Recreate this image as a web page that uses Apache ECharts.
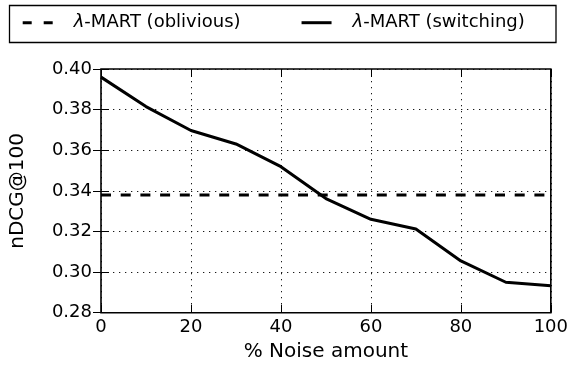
<!DOCTYPE html>
<html><head><meta charset="utf-8">
<script src="https://cdn.jsdelivr.net/npm/echarts@6/dist/echarts.min.js"></script>
<style>html,body{margin:0;padding:0;background:#fff}#c{width:571px;height:368px}</style>
</head><body><div id="c"></div>
<script>
const noise = [0, 10, 20, 30, 40, 50, 60, 70, 80, 90, 100];
const switching = [0.396, 0.3815, 0.3697, 0.3631, 0.3519, 0.3362, 0.326, 0.3212, 0.3055, 0.295, 0.2933];
const oblivious = [0.338, 0.338, 0.338, 0.338, 0.338, 0.338, 0.338, 0.338, 0.338, 0.338, 0.338];
const seriesNames = ['λ-MART (oblivious)', 'λ-MART (switching)'];
const xTicks = [0, 20, 40, 60, 80, 100];
const yTicks = [0.28, 0.30, 0.32, 0.34, 0.36, 0.38, 0.40];
const xTitle = '% Noise amount';
const yTitle = 'nDCG@100';

const font = 'DejaVu Sans';
const chart = echarts.init(document.getElementById('c'), null, {renderer: 'canvas'});
const tickStyle = {show: true, inside: true, length: 8, lineStyle: {color: '#000', width: 1}};
const gridLine = {show: true, lineStyle: {color: '#000', type: [1.3, 4.7], width: 0.9}};
chart.setOption({
  animation: false,
  textStyle: {fontFamily: font, color: '#000'},
  grid: {left: 100.7, right: 18.3, top: 69, bottom: 55.3, show: true, borderColor: '#000', borderWidth: 1.6},
  graphic: [{
    type: 'rect', shape: {x: 9.5, y: 5.5, width: 546.5, height: 37},
    style: {fill: 'none', stroke: '#000', lineWidth: 1.3}, silent: true, z: 100
  }],
  legend: {
    top: 13.7, left: 22.7, padding: 0,
    itemWidth: 30, itemHeight: 20, itemGap: 61,
    formatter: function (n) { return '{s|}{i|λ}{t|' + n.slice(1) + '}'; },
    textStyle: {
      fontFamily: font, fontSize: 18, color: '#000',
      rich: {
        s: {width: 16},
        i: {fontStyle: 'italic', fontFamily: font, fontSize: 18, color: '#000', lineHeight: 20},
        t: {fontFamily: font, fontSize: 18, color: '#000', lineHeight: 20}
      }
    },
    data: [
      {name: seriesNames[0], icon: 'path://M0,0h9v3h-9z M21,0h9v3h-9z', itemStyle: {color: '#000'}},
      {name: seriesNames[1], icon: 'path://M0,0h30v3h-30z', itemStyle: {color: '#000'}}
    ]
  },
  xAxis: [{
    type: 'value', min: xTicks[0], max: xTicks[xTicks.length - 1], interval: 20, position: 'bottom',
    name: xTitle, nameLocation: 'middle', nameGap: 29,
    nameTextStyle: {fontSize: 20, fontFamily: font, color: '#000'},
    axisLine: {show: false},
    axisTick: tickStyle,
    axisLabel: {fontSize: 18, fontFamily: font, color: '#000', margin: 6},
    splitLine: gridLine
  }, {
    type: 'value', min: xTicks[0], max: xTicks[xTicks.length - 1], interval: 20, position: 'top',
    axisLine: {show: false}, axisLabel: {show: false},
    axisTick: tickStyle, splitLine: {show: false}
  }],
  yAxis: [{
    type: 'value', min: yTicks[0], max: yTicks[yTicks.length - 1], interval: 0.02, position: 'left',
    name: yTitle, nameLocation: 'middle', nameGap: 73,
    nameTextStyle: {fontSize: 20, fontFamily: font, color: '#000'},
    axisLine: {show: false},
    axisTick: tickStyle,
    axisLabel: {fontSize: 18, fontFamily: font, color: '#000', margin: 9, formatter: v => v.toFixed(2)},
    splitLine: gridLine
  }, {
    type: 'value', min: yTicks[0], max: yTicks[yTicks.length - 1], interval: 0.02, position: 'right',
    axisLine: {show: false}, axisLabel: {show: false},
    axisTick: tickStyle, splitLine: {show: false}
  }],
  series: [{
    name: seriesNames[0], type: 'line', showSymbol: false, symbol: 'none',
    data: noise.map((x, i) => [x, oblivious[i]]),
    lineStyle: {color: '#000', width: 3, type: [10, 9.7], cap: 'butt'}, itemStyle: {color: '#000'}
  }, {
    name: seriesNames[1], type: 'line', showSymbol: false, symbol: 'none',
    data: noise.map((x, i) => [x, switching[i]]),
    lineStyle: {color: '#000', width: 3, type: 'solid'}, itemStyle: {color: '#000'}
  }]
});
</script></body></html>
